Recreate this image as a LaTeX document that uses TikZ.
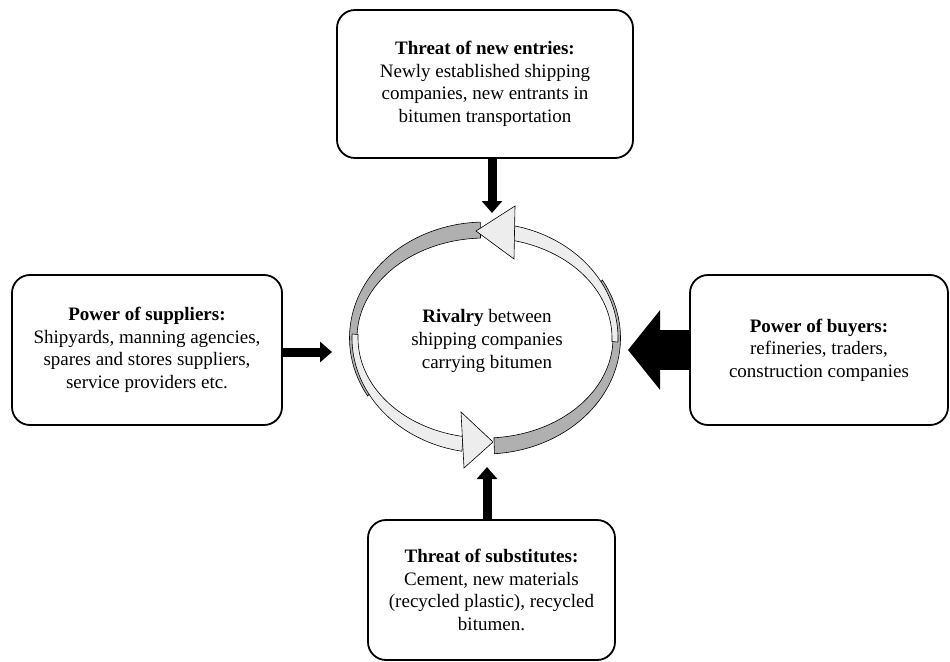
\documentclass[tikz,border=0pt]{standalone}
\usepackage{fontspec}
\setmainfont{Liberation Serif}
\usetikzlibrary{arrows.meta,shapes.geometric}
\begin{document}
\begin{tikzpicture}[x=1pt,y=-1pt,
  forcebox/.style={draw=black,line width=1.8pt,rounded corners=18pt,fill=white,align=center,
    font=\fontsize{19}{22.6}\selectfont,inner sep=0pt},
  thinarrow/.style={line width=9pt,-{Triangle[length=12pt,width=20pt]}},
  bigarrow/.style={line width=40pt,-{Triangle[length=32pt,width=78pt]}},
  lightband/.style={fill=gray!14,draw=black,line width=0.6pt},
  darkband/.style={fill=gray!62,draw=black,line width=0.6pt},
  headshape/.style={fill=gray!14,draw=black,line width=0.6pt,line join=miter}]
\useasboundingbox (0,0) rectangle (950,661);

% boxes
\node[forcebox,minimum width=296pt,minimum height=148pt] (entry) at (485,84)
  {\textbf{Threat of new entries:}\\Newly established shipping\\companies, new entrants in\\bitumen transportation};
\node[forcebox,minimum width=270pt,minimum height=150pt] (supp) at (147,350)
  {\textbf{Power of suppliers:}\\Shipyards, manning agencies,\\spares and stores suppliers,\\service providers etc.};
\node[forcebox,minimum width=258pt,minimum height=150pt] (buy) at (819,350)
  {\textbf{Power of buyers:}\\refineries, traders,\\construction companies};
\node[forcebox,minimum width=247pt,minimum height=140pt] (subst) at (491.5,590)
  {\textbf{Threat of substitutes:}\\Cement, new materials\\(recycled plastic), recycled\\bitumen.};

% central ring
\def\cx{485}\def\cy{338}
% dark (back) faces, drawn first, slightly outside so they peek out at the twists
\path[darkband] plot[domain=330:446,samples=60] ({\cx+135.5*cos(\x)},{\cy+116*sin(\x)})
  -- plot[domain=446:330,samples=60] ({\cx+128*cos(\x)},{\cy+100*sin(\x)}) -- cycle;
\path[darkband] plot[domain=150:268,samples=60] ({\cx+135.5*cos(\x)},{\cy+116*sin(\x)})
  -- plot[domain=268:150,samples=60] ({\cx+128*cos(\x)},{\cy+100*sin(\x)}) -- cycle;
% light (front) faces
\path[lightband] plot[domain=283:362,samples=60] ({\cx+133*cos(\x)},{\cy+115*sin(\x)})
  -- plot[domain=362:283,samples=60] ({\cx+127*cos(\x)},{\cy+100*sin(\x)}) -- cycle;
\path[lightband] plot[domain=100:182,samples=60] ({\cx+133*cos(\x)},{\cy+115*sin(\x)})
  -- plot[domain=182:100,samples=60] ({\cx+127*cos(\x)},{\cy+100*sin(\x)}) -- cycle;
% arrow heads
\path[headshape] (476,231) -- (515,206) -- (514,259) -- cycle;
\path[headshape] (493,442) -- (461,412) -- (464,468) -- cycle;

\node[ellipse,minimum width=240pt,minimum height=200pt,align=center,
  font=\fontsize{19}{22.6}\selectfont] (ring) at (487,341)
  {\textbf{Rivalry} between\\shipping companies\\carrying bitumen};

% connector end points
\coordinate (tE) at (492,213);
\coordinate (tS) at (332,352);
\coordinate (tB) at (628,350);
\coordinate (tU) at (487,467);

\draw[thinarrow] (entry.south -| tE) -- (tE);
\draw[thinarrow] (supp.east |- tS) -- (tS);
\draw[bigarrow] (buy.west |- tB) -- (tB);
\draw[thinarrow] (subst.north -| tU) -- (tU);
\end{tikzpicture}
\end{document}
